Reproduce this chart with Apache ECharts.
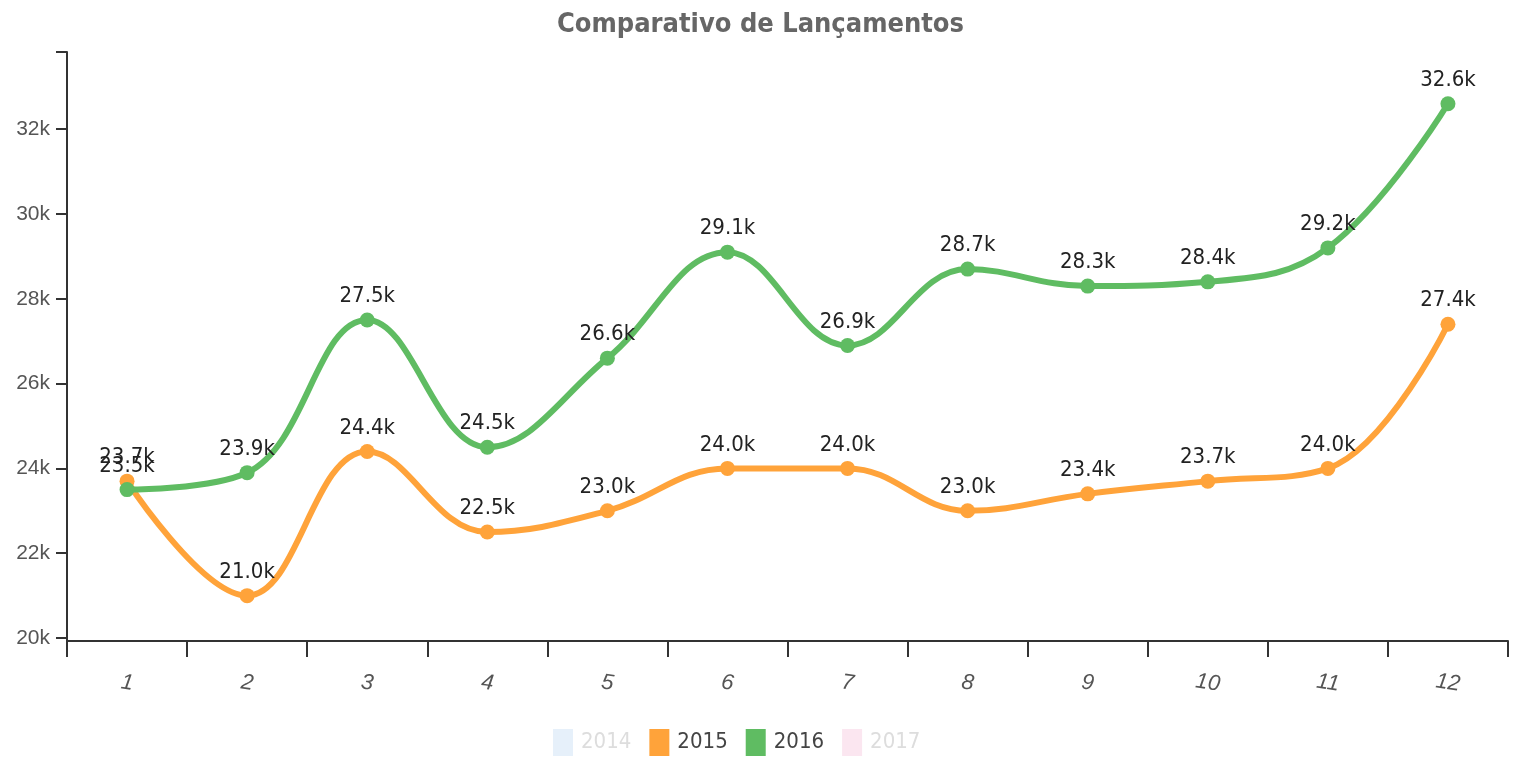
<!DOCTYPE html>
<html>
<head>
<meta charset="utf-8">
<script src="https://cdn.jsdelivr.net/npm/echarts@6/dist/echarts.min.js"></script>
<style>
  html, body { margin: 0; padding: 0; background: #fff; }
  #chart { width: 1521px; height: 764px; }
</style>
</head>
<body>
<div id="chart"></div>
<script>
// meses no eixo x
const months = ['1', '2', '3', '4', '5', '6', '7', '8', '9', '10', '11', '12'];
// lançamentos por ano
const values2015 = [23700, 21000, 24400, 22500, 23000, 24000, 24000, 23000, 23400, 23700, 24000, 27400];
const values2016 = [23500, 23900, 27500, 24500, 26600, 29100, 26900, 28700, 28300, 28400, 29200, 32600];
const yTickValues = [20000, 22000, 24000, 26000, 28000, 30000, 32000];

const narrow = '"DejaVu Sans Condensed", "Liberation Sans", sans-serif';

const chart = echarts.init(document.getElementById('chart'), null, { renderer: 'canvas' });

function lineSeries(name, data, color) {
    return {
        name: name,
        type: 'line',
        data: data,
        smooth: 0.4,
        symbol: 'circle',
        symbolSize: 15,
        color: color,
        lineStyle: { width: 6, color: color },
        itemStyle: { color: color },
        label: {
            show: true,
            position: 'top',
            distance: 5,
            fontFamily: narrow,
            fontSize: 22,
            color: '#222',
            formatter: p => (p.value / 1000).toFixed(1) + 'k'
        },
        emphasis: { disabled: true }
    };
}

const option = {
    backgroundColor: '#ffffff',
    animation: false,
    title: {
        text: 'Comparativo de Lançamentos',
        left: 'center',
        top: 6,
        textStyle: {
            fontFamily: narrow,
            fontWeight: 'bold',
            fontSize: 27,
            color: '#666'
        }
    },
    legend: {
        bottom: 3,
        left: 548,
        icon: 'rect',
        itemWidth: 20,
        itemHeight: 27,
        itemGap: 18,
        selectedMode: false,
        textStyle: { fontFamily: narrow, fontSize: 22, color: '#444', padding: [0, 0, 0, 3] },
        data: [
            { name: '2014', itemStyle: { color: '#e6f0fa' }, textStyle: { color: '#ddd' } },
            { name: '2015' },
            { name: '2016' },
            { name: '2017', itemStyle: { color: '#fbe6f0' }, textStyle: { color: '#ddd' } }
        ]
    },
    grid: {
        left: 67,
        right: 13,
        top: 52,
        bottom: 123,
        containLabel: false
    },
    xAxis: {
        type: 'category',
        data: months,
        boundaryGap: true,
        axisLine: { lineStyle: { color: '#333', width: 2 } },
        axisTick: { show: true, length: 16, lineStyle: { color: '#333', width: 2 } },
        axisLabel: {
            margin: 42,
            rotate: -8,
            align: 'center',
            verticalAlign: 'middle',
            fontFamily: '"Liberation Sans", sans-serif',
            fontStyle: 'italic',
            fontSize: 22,
            color: '#555'
        },
        splitLine: { show: false }
    },
    yAxis: {
        type: 'value',
        min: 19930,
        max: 33820,
        axisLine: { show: true, lineStyle: { color: '#333', width: 2 } },
        axisTick: {
            show: true,
            length: 11,
            customValues: yTickValues.concat([33820]),
            lineStyle: { color: '#333', width: 2 }
        },
        axisLabel: {
            customValues: yTickValues,
            margin: 17,
            fontFamily: '"Liberation Sans", sans-serif',
            fontSize: 21,
            color: '#555',
            formatter: v => (v / 1000) + 'k'
        },
        splitLine: { show: false }
    },
    series: [
        { name: '2014', type: 'line', data: [], color: '#e6f0fa' },
        lineSeries('2015', values2015, '#ffa33a'),
        lineSeries('2016', values2016, '#5fbc62'),
        { name: '2017', type: 'line', data: [], color: '#fbe6f0' }
    ]
};

chart.setOption(option);
</script>
</body>
</html>
